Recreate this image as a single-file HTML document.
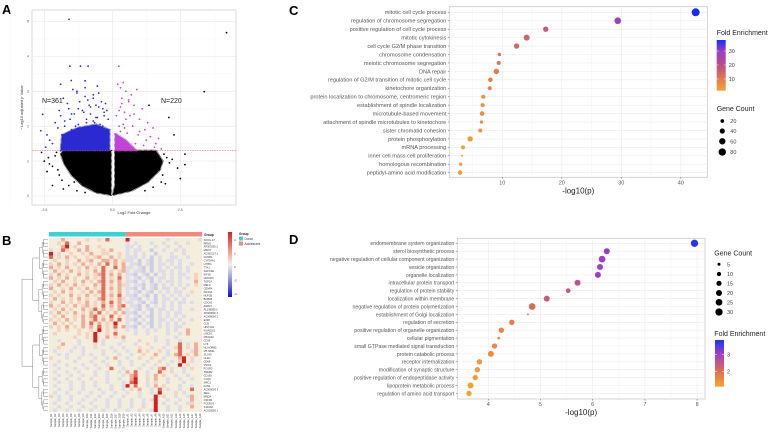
<!DOCTYPE html>
<html><head><meta charset="utf-8"><style>
html,body{margin:0;padding:0;background:#fff;}
svg{display:block;font-family:"Liberation Sans",sans-serif;}
</style></head><body>
<svg id="fig" width="780" height="435" viewBox="0 0 780 435">
<g id="pa"></g>
<g id="pb"></g>
<g id="pc"></g>
<g id="pd"></g>
</svg>
<script>
// ---------- DATA: Panel A (volcano) ----------
const volcanoXTicks = [-2.5, 0, 2.5];
const volcanoXTickLabels = ["-2.5", "0.0", "2.5"];
const volcanoYTicks = [0, 1, 2, 3, 4, 5];
const volcanoThreshold = 1.3;
const downX = [-1.59,-1.56,-1.17,-0.89,-1.9,-1.51,-2.56,-2.63,-1.3,-1.0,-0.7,-0.5,-1.8,-1.2,-0.9,-0.6,-0.4,-1.6,-1.1,-0.8,-0.3,-1.9,-1.4,-0.95,-0.55,-2.1,-1.75,-1.25,-0.65,-0.35,-2.0,-1.5,-1.05,-0.75,-0.25,-1.85,-1.35,-0.85,-0.45,-2.3,-2.2,-1.7,-1.15,-0.6,-0.2,-1.45,-1.0,-0.5,-1.65,-1.25,-0.8,-0.3,-1.55,-1.05,-0.7,-0.2,-1.35,-0.95,-0.45,-1.75,-1.2,-0.6,-0.15,-1.5,-0.85,-0.35,-1.0,-0.55,-1.3,-0.7,-0.25,-2.4,-2.45,-1.95];
const downY = [5.06,3.72,3.72,3.72,3.2,3.31,2.34,1.87,3.0,3.1,2.9,2.95,2.8,2.7,2.75,2.6,2.7,2.5,2.45,2.55,2.4,2.3,2.35,2.2,2.25,2.1,2.15,2.05,2.1,2.0,1.95,1.9,1.85,1.9,1.8,1.75,1.7,1.65,1.7,1.6,1.5,1.55,1.5,1.45,1.4,3.05,2.85,2.55,2.65,2.5,2.35,2.3,2.2,2.4,2.15,2.45,2.0,2.1,2.05,2.0,1.95,2.25,2.2,2.35,2.6,2.5,3.3,3.15,2.95,2.8,2.65,1.75,1.4,2.45];
const upX = [0.24,0.3,0.5,0.7,0.9,0.35,0.6,0.8,1.1,0.25,0.45,0.65,1.0,1.3,0.4,0.75,1.2,1.5,0.3,0.55,0.95,1.4,1.7,0.2,0.5,0.85,1.15,1.6,0.35,0.7,0.2,0.4,0.6,0.3,0.5,0.8,0.25,0.45,1.0,1.25,0.15,0.35,1.55,1.8];
const upY = [3.72,3.1,3.0,2.9,3.05,2.8,2.7,2.6,2.5,2.45,2.4,2.3,2.2,2.1,2.05,2.0,1.9,1.95,1.85,1.8,1.75,1.7,1.65,1.6,1.55,1.5,1.45,1.5,1.4,1.35,3.2,3.25,2.75,2.55,2.2,2.35,2.0,1.95,1.85,1.6,2.3,2.65,1.4,1.35];
const nsX = [4.2,3.38,1.35,2.08,2.27,2.67,2.67,-2.31,-2.1,-2.5,-1.95,2.0,2.4,1.8,-2.2,-1.8,2.5,1.9,-2.4,-2.05,-2.2,-1.85,-1.6,-1.3,1.85,2.1,1.7,1.5,-2.0,-1.4,2.2,1.95,-1.0,1.2,-2.35,-2.6];
const nsY = [4.68,2.99,2.6,2.25,1.75,1.2,0.9,0.92,1.15,1.0,0.6,1.1,0.8,0.4,0.3,0.2,0.5,1.2,0.7,1.25,0.85,0.45,0.3,0.15,0.6,0.95,1.15,0.25,0.75,0.4,1.05,0.35,0.1,0.15,1.1,1.25];
const nsMassLeft = [[-0.05,0.03],[-0.6,0.1],[-1.1,0.3],[-1.5,0.6],[-1.75,0.9],[-1.9,1.2],[-1.8,1.3],[-0.05,1.3]];
const nsMassRight = [[0.02,0.03],[0.7,0.15],[1.3,0.4],[1.75,0.75],[1.85,1.0],[1.6,1.3],[0.1,1.3],[0.1,0.3]];
const downMass = [[-1.9,1.3],[-1.85,1.75],[-1.3,1.95],[-0.6,2.05],[-0.1,1.9],[-0.1,1.3]];
const upMass = [[0.1,1.3],[0.1,1.8],[0.5,1.6],[0.9,1.3]];

// ---------- DATA: Panel B (heatmap) ----------
const heatRows = [
"...2.....1..1.3....4.........a.......a","..1.3..2...........a.a...a..a..a..a..","...24.1..2..1......aa.a...a..a..a....","1..31..2.2...1.2...a.aa..b..a..a.a...",
"4.1..1..1.2..11..1.a.a.a..b...a..a...","3.1.2.1..1.12..2.1.aaa.a.b.a..aa..a..",".1..1..2.12..22.2.1aa.b.ab.a.aa.a....","1.2.1.1.2.1.2.3.2.2.aab.ab.aa.a.a..a.",
"2.1.2..1.2.1.3..3.2aa.ab.b.a.a.aa.a..",".2.1.2.1.1.2.3.1.12a.aab.b.aa.a.a.a..","1.2.1..2.1.123.2.2.aab.ab.b.a.a.aa..1","2.1.2.1..2.1.3.1.3.a.ab.ab.aa.a.a.a.1",
".1.2..1.2.1.23.2.2.aab.a.b.a.aa.a...2","1.2.1.2.1..2.3.1.21a.aab.ab.a.a.a.a.1","2..1.2.1.2.1.3.2.2.aab.b.ab.aa.a.a...",".1.2.1..1.2.23.1.2.a.ab.ab.a.a.aa..1.",
"1.1..2.1.2.1.3.2.3.aab.ab.b.a.a.a.a..",".2.1.1.2.1..23.1.2a.aab.a.b.aa.a.a...","1..2.1.1.2.1.2.3.2.aa.ab.ab.a.a.aa.a.","2.1.1.2.12.1.3.2.23.aab.b.a.a.a.a....",
".1.2.1..2.13.2.1.2.a.ab.ab.aa.a.a..a.","1.2.1.2.1.2.3.1.2.2aab.a.b.a.a.aa....",".1.2..1.2.23.1.3.1.a.ab.ab.a.a.a.a...","1.1.2.1.2.13.2.2.3.aab.a.b.aa.a.a..a.",
".2.1.1..2.3.2.1.4..a.ab.ab.a.a.a.a...","1.1.2.1.2.2.3.1.3.2aab.a.b.a.a.aa....","..1.1..1..1.4.1.1..a.a..a.a..a.a..2..",".1.....1.1.4..1.3....a..a....a..a.2..",
"......1..1.4..2.1.2.......a....a.....","..a....a...4.a....a...1...a..a..a....","...2...a...1.a...a...a..1....a..3.a.2","..1...a.a..a...a..a...1..a..a..13.1.2",
".a...a..a....a..a..a..2.1..1.a..3..a2","..a.a...a.a..a...a..a..1..2..a.23.1.2","1...a..a...a..a.2..a..1..1..a...24.1.","..a...a...a..a...a..a...a..1..a.14.a.",
".a..a...a..a..a..a..a..a..a..a..4.1..","..a...a..a..a..3..a...a..a.23.a..a.1.",".a..a..a...a..a..a.2.3..a..3..1..a...","..a..a..a..a..a...a.23..a.2.1..a..a..",
".a..a..a..a...a..a..24..1.2..a..a..a.","..a..a..a..a..a...a.34..a.1..a...a...",".a...a..a..a...a..a4.3..a.2.1...a..a.","..a..a..a...a..a..a.1.2..a.3.a..a..3.",
".a..a..a..a..a..a..a..a..a.4...1.a...","1.a..a...a..a..a..a...a...4.1..a..a2.","..a..a..a..a..a..a..a..a.a4..a..a..2.",".a..a..a..a...a..a..a..a..4.a..a..a1.",
"..a..a..a..a..a..a..a..1..4..a..a..2.",".a..a..a..a..a..a..a..a..a4..a..a...."];
const heatGroups = ["Donor","Adolescent"];
const heatGroupSizes = [19, 19];
const heatLegendTicks = [4, 2, 0, -2, -4];
const geneLabels = ["SCUG-17","RRM2","AP000350.2","MKI67","AC092127.1","CCNB1","CYP24A1","LYPD1","TTK1","SAPCD2","KIF18","CDC20C","TOP2A","MELK","CENPA","KIF20A","NUF2B","BUB1B","CDCA1","ZWINT","AL138999.2","AP000802.3","AC008060.3","E2F8","GLB","HIST1H1","KIAA0101","LINC01","MS4A4A","CD36","LYZ","HLA-DRB5","MT-ND4L","SLC40","CLEC","CD68","VSIG4","FCGR3","TREM2","CD163","C1QA","MRC1","FCN1","AC009093.3","SELL","MNDA","CSF3R","FCER1G","S100A8","AC020656.1"];

// ---------- DATA: Panel C ----------
const cTerms = ["mitotic cell cycle process","regulation of chromosome segregation","positive regulation of cell cycle process","mitotic cytokinesis","cell cycle G2/M phase transition","chromosome condensation","meiotic chromosome segregation","DNA repair","regulation of G2/M transition of mitotic cell cycle","kinetochore organization","protein localization to chromosome, centromeric region","establishment of spindle localization","microtubule-based movement","attachment of spindle microtubules to kinetochore","sister chromatid cohesion","protein phosphorylation","mRNA processing","inner cell mass cell proliferation","homologous recombination","peptidyl-amino acid modification"];
const cLogP = [42.5,29.4,17.3,14.1,12.4,9.5,9.4,9.0,8.0,7.9,6.8,6.7,6.6,6.5,6.3,4.6,3.4,3.2,3.0,2.9];
const cCount = [95,65,43,53,43,17,24,43,31,24,24,24,31,17,24,43,24,6,17,31];
const cFold = [38,28,17,15,14,12,11,10,9,8,6,6,6,6,5,4,3,3,3,3];
const cXTicks = [10,20,30,40];
const cFoldTicks = [30,20,10];
const cCountTicks = [20,40,60,80];

// ---------- DATA: Panel D ----------
const dTerms = ["endomembrane system organization","sterol biosynthetic process","negative regulation of cellular component organization","vesicle organization","organelle localization","intracellular protein transport","regulation of protein stability","localization within membrane","negative regulation of protein polymerization","establishment of Golgi localization","regulation of secretion","positive regulation of organelle organization","cellular pigmentation","small GTPase mediated signal transduction","protein catabolic process","receptor internalization","modification of synaptic structure","positive regulation of endopeptidase activity","lipoprotein metabolic process","regulation of amino acid transport"];
const dLogP = [7.95,6.27,6.18,6.14,6.10,5.71,5.53,5.12,4.84,4.76,4.45,4.25,4.20,4.12,4.05,3.83,3.79,3.75,3.66,3.63];
const dCount = [30,20,25,20,20,20,12,20,25,2,16,16,4,16,20,16,16,16,20,16];
const dFold = [3.75,3.1,3.0,3.0,3.05,2.6,2.5,2.4,2.1,2.0,1.8,1.7,1.65,1.6,1.55,1.4,1.35,1.35,1.25,1.2];
const dXTicks = [4,5,6,7,8];
const dCountTicks = [5,10,15,20,25,30];
const dFoldTicks = [3,2];

// ---------- helpers ----------
const NS="http://www.w3.org/2000/svg";
function mk(parent,tag,attrs,text){const e=document.createElementNS(NS,tag);for(const k in attrs)e.setAttribute(k,attrs[k]);if(text!==undefined)e.textContent=text;parent.appendChild(e);return e;}
function lerpColor(stops,v){if(v<=stops[0][0])return stops[0][1];for(let i=1;i<stops.length;i++){if(v<=stops[i][0]){const t=(v-stops[i-1][0])/(stops[i][0]-stops[i-1][0]);const a=hex(stops[i-1][1]),b=hex(stops[i][1]);return "rgb("+a.map((c,j)=>Math.round(c+(b[j]-c)*t)).join(",")+")";}}return stops[stops.length-1][1];}
function hex(h){return [parseInt(h.substr(1,2),16),parseInt(h.substr(3,2),16),parseInt(h.substr(5,2),16)];}
function letter(g,x,y,t){const e=mk(g,"text",{x:x,y:y,"font-size":13,"font-weight":"bold",fill:"#000"},t);}

// ---------- Panel A ----------
(function(){
const g=document.getElementById("pa");
letter(g,2,14,"A");
const L=32,R=236,T=10,B=205;
const sx=v=>112.3+v*27.2, sy=v=>196-v*34.9;
const bg=mk(g,"rect",{x:L,y:T,width:R-L,height:B-T,fill:"#fff",stroke:"#d0d0d0","stroke-width":0.8});

[-3.75,-1.25,1.25,3.75].forEach(v=>mk(g,"line",{x1:sx(v),x2:sx(v),y1:T,y2:B,stroke:"#f2f2f2","stroke-width":0.4}));
[0.5,1.5,2.5,3.5,4.5].forEach(v=>mk(g,"line",{x1:L,x2:R,y1:sy(v),y2:sy(v),stroke:"#f2f2f2","stroke-width":0.4}));
volcanoXTicks.forEach((v,i)=>{mk(g,"line",{x1:sx(v),x2:sx(v),y1:T,y2:B,stroke:"#e6e6e6","stroke-width":0.6});
 const t=mk(g,"text",{x:sx(v),y:B+6,"font-size":3.5,fill:"#555","text-anchor":"middle"},volcanoXTickLabels[i]);});
volcanoYTicks.forEach(v=>{mk(g,"line",{x1:L,x2:R,y1:sy(v),y2:sy(v),stroke:"#e6e6e6","stroke-width":0.6});
 const t=mk(g,"text",{x:L-3,y:sy(v)+1.2,"font-size":3.5,fill:"#555","text-anchor":"end"},String(v));});
const poly=(pts,fill,name)=>{const p=mk(g,"polygon",{points:pts.map(p=>sx(p[0])+","+sy(p[1])).join(" "),fill:fill,stroke:fill,"stroke-width":2,"stroke-linejoin":"round","stroke-dasharray":"0.6,0.6"});};
poly(nsMassLeft,"#000","ns-density-left");poly(nsMassRight,"#000","ns-density-right");
poly(downMass,"#2a2ad0","down-density");poly(upMass,"#c044d8","up-density");
const dots=(xs,ys,c,name)=>xs.forEach((x,i)=>{const d=mk(g,"circle",{cx:sx(x),cy:sy(ys[i]),r:0.9,fill:c});});
dots(nsX,nsY,"#000","ns-point");dots(downX,downY,"#2a2ad0","down-point");dots(upX,upY,"#c044d8","up-point");
const th=mk(g,"line",{x1:L,x2:R,y1:sy(volcanoThreshold),y2:sy(volcanoThreshold),stroke:"#e05050","stroke-width":0.5,"stroke-dasharray":"1.5,1"});

let t=mk(g,"text",{x:42,y:103,"font-size":7,fill:"#222"},"N=361");
t=mk(g,"text",{x:161,y:103,"font-size":7,fill:"#222"},"N=220");
t=mk(g,"text",{x:(L+R)/2,y:214,"font-size":4,fill:"#333","text-anchor":"middle"},"Log2 Fold Change");
t=mk(g,"text",{x:0,y:0,"font-size":4,fill:"#333","text-anchor":"middle",transform:"translate(23,"+((T+B)/2)+") rotate(-90)"},"−Log10 adjusted p Value");
})();

// ---------- Panel B ----------
(function(){
const g=document.getElementById("pb");
letter(g,2,245,"B");
const X0=49,CW=4.03,Y0=238,RH=3.48;
const colors={".":"#f3eedc","a":"#dedce8","b":"#cccce6","1":"#f6d2c0","2":"#f1ab98","3":"#e46a58","4":"#d41f1f"};
const nc=heatGroupSizes[0]+heatGroupSizes[1];
let cx=X0;
heatGroupSizes.forEach((n,i)=>{const r=mk(g,"rect",{x:cx,y:232,width:n*CW,height:4.5,fill:i===0?"#3fd0d2":"#f08a7c"});cx+=n*CW;});
let t=mk(g,"text",{x:X0+nc*CW+2,y:236,"font-size":3.2,"font-weight":"bold",fill:"#222"},"Group");
heatRows.forEach((row,ri)=>{for(let ci=0;ci<nc;ci++){const ch=row[ci]||".";const c=mk(g,"rect",{x:X0+ci*CW,y:Y0+ri*RH,width:CW+0.1,height:RH+0.1,fill:colors[ch]||colors["."]});}
 const gl=mk(g,"text",{x:X0+nc*CW+1.5,y:Y0+ri*RH+RH*0.8,"font-size":2.6,fill:"#333"},geneLabels[ri]||"");});
for(let ci=0;ci<nc;ci++){const lab=(ci<heatGroupSizes[0]?"D":"A")+(ci%19+1);const x=X0+ci*CW+CW*0.7,y=Y0+heatRows.length*RH+1.5;
 const c=mk(g,"text",{x:0,y:0,"font-size":2.6,fill:"#333","text-anchor":"end",transform:"translate("+x+","+y+") rotate(-90)"},"Sample_"+lab);}
const dg=mk(g,"g",{stroke:"#555","stroke-width":0.35,fill:"none"});
function tree(a,b,depth){if(b-a<=1){return {y:Y0+(a+0.5)*RH,x:48};}const m=Math.floor((a+b)/2);const l=tree(a,m,depth+1),r=tree(m,b,depth+1);const x=Math.max(22,47-(b-a)*0.55-depth*0.5);
 mk(dg,"path",{d:"M"+l.x+","+l.y+"H"+x+"V"+r.y+"H"+r.x});return {y:(l.y+r.y)/2,x:x};}
tree(0,heatRows.length,0);
const defs=mk(g,"defs",{});const lg=mk(defs,"linearGradient",{id:"hg",x1:0,y1:0,x2:0,y2:1});
[["0","#d42020"],["0.3","#f0a090"],["0.5","#f4f0e4"],["0.7","#a0a0e0"],["1","#1010d0"]].forEach(s=>mk(lg,"stop",{offset:s[0],"stop-color":s[1]}));
const cb=mk(g,"rect",{x:228,y:232,width:4,height:65,fill:"url(#hg)"});
heatLegendTicks.forEach((v,i)=>{const tt=mk(g,"text",{x:234,y:241+i*13.5,"font-size":3,fill:"#333"},String(v));});
t=mk(g,"text",{x:239,y:235,"font-size":3.2,"font-weight":"bold",fill:"#222"},"Group");
heatGroups.forEach((n,i)=>{const r=mk(g,"rect",{x:239,y:236.5+i*5,width:4,height:4,fill:i===0?"#3fd0d2":"#f08a7c"});
 const tt=mk(g,"text",{x:244.5,y:239.8+i*5,"font-size":3.2,fill:"#333"},n);});
})();

// ---------- dot plot helper ----------
function dotPlot(g,o){
 const sx=v=>o.x0+v*o.xs, sy=i=>o.y0+i*o.rh;
 const bg=mk(g,"rect",{x:o.L,y:o.T,width:o.R-o.L,height:o.B-o.T,fill:"#fff",stroke:"#c8c8c8","stroke-width":0.8});
 o.minor.forEach(v=>mk(g,"line",{x1:sx(v),x2:sx(v),y1:o.T,y2:o.B,stroke:"#f3f3f3","stroke-width":0.5}));
 o.xticks.forEach(v=>{mk(g,"line",{x1:sx(v),x2:sx(v),y1:o.T,y2:o.B,stroke:"#ebebeb","stroke-width":0.6});
  mk(g,"line",{x1:sx(v),x2:sx(v),y1:o.B,y2:o.B+1.5,stroke:"#555","stroke-width":0.5});
  const t=mk(g,"text",{x:sx(v),y:o.B+7,"font-size":5.5,fill:"#555","text-anchor":"middle"},String(v));});
 o.terms.forEach((term,i)=>{mk(g,"line",{x1:o.L,x2:o.R,y1:sy(i),y2:sy(i),stroke:"#ebebeb","stroke-width":0.6});
  mk(g,"line",{x1:o.L-1.5,x2:o.L,y1:sy(i),y2:sy(i),stroke:"#555","stroke-width":0.5});
  const t=mk(g,"text",{x:o.L-3,y:sy(i)+1.9,"font-size":o.fs,fill:"#555","text-anchor":"end"},term);});
 o.terms.forEach((term,i)=>{const c=mk(g,"circle",{cx:sx(o.vals[i]),cy:sy(i),r:Math.sqrt(o.counts[i])*o.k,fill:lerpColor(o.stops,o.fold[i])});});
 const t=mk(g,"text",{x:(o.L+o.R)/2,y:o.B+16,"font-size":8,fill:"#222","text-anchor":"middle"},"-log10(p)");
}
function colorbar(g,id,stops,x,yTop,yBot,vTop,vBot,ticks,titleY,titleX){
 const defs=mk(g,"defs",{});const lg=mk(defs,"linearGradient",{id:id,x1:0,y1:1,x2:0,y2:0});
 stops.forEach(s=>mk(lg,"stop",{offset:Math.max(0,Math.min(1,(s[0]-vBot)/(vTop-vBot))),"stop-color":s[1]}));
 const r=mk(g,"rect",{x:x,y:yTop,width:9,height:yBot-yTop,fill:"url(#"+id+")"});
 ticks.forEach(v=>{const y=yBot-(v-vBot)/(vTop-vBot)*(yBot-yTop);mk(g,"line",{x1:x,x2:x+2,y1:y,y2:y,stroke:"#fff","stroke-width":0.5});mk(g,"line",{x1:x+7,x2:x+9,y1:y,y2:y,stroke:"#fff","stroke-width":0.5});
  const t=mk(g,"text",{x:x+12,y:y+2,"font-size":5.5,fill:"#444"},String(v));});
 const t=mk(g,"text",{x:titleX,y:titleY,"font-size":7,fill:"#222"},"Fold Enrichment");
}
function sizeLegend(g,ticks,k,x,ys,titleX,titleY){
 const t=mk(g,"text",{x:titleX,y:titleY,"font-size":7,fill:"#222"},"Gene Count");
 ticks.forEach((v,i)=>{const c=mk(g,"circle",{cx:x,cy:ys[i],r:Math.sqrt(v)*k,fill:"#000"});
  const tt=mk(g,"text",{x:x+8,y:ys[i]+2,"font-size":5.5,fill:"#444"},String(v));});
}

// ---------- Panel C ----------
(function(){
const g=document.getElementById("pc");
letter(g,289,15,"C");
const stops=[[1.6,"#f7a437"],[10,"#e27a4c"],[20,"#bb4d88"],[30,"#9a3dc8"],[38,"#1530f5"]];
dotPlot(g,{L:449.3,R:707.3,T:6.7,B:177.3,x0:442.8,xs:5.95,y0:12.3,rh:8.44,terms:cTerms,vals:cLogP,counts:cCount,fold:cFold,stops:stops,k:0.41,xticks:cXTicks,minor:[5,15,25,35,45],fs:5.6});
colorbar(g,"cg",stops,716.7,40,90.7,37.9,1.6,cFoldTicks,35,716.7);
sizeLegend(g,cCountTicks,0.41,722.3,[121,131,141.3,152],716.7,111);
})();

// ---------- Panel D ----------
(function(){
const g=document.getElementById("pd");
letter(g,289,244,"D");
const stops=[[1.14,"#f9a634"],[2,"#e0704f"],[3,"#a23ec8"],[3.82,"#1a35f5"]];
dotPlot(g,{L:457.3,R:705,T:238.3,B:399,x0:279.5,xs:52.2,y0:243.3,rh:7.9,terms:dTerms,vals:dLogP,counts:dCount,fold:dFold,stops:stops,k:0.67,xticks:dXTicks,minor:[3.5,4.5,5.5,6.5,7.5],fs:5.2});
sizeLegend(g,dCountTicks,0.67,719,[264.3,274,283.3,293,302.3,312],714.3,255.5);
colorbar(g,"dg",stops,715,340,386.7,3.82,1.14,dFoldTicks,336,714.3);
})();
</script>
</body></html>
